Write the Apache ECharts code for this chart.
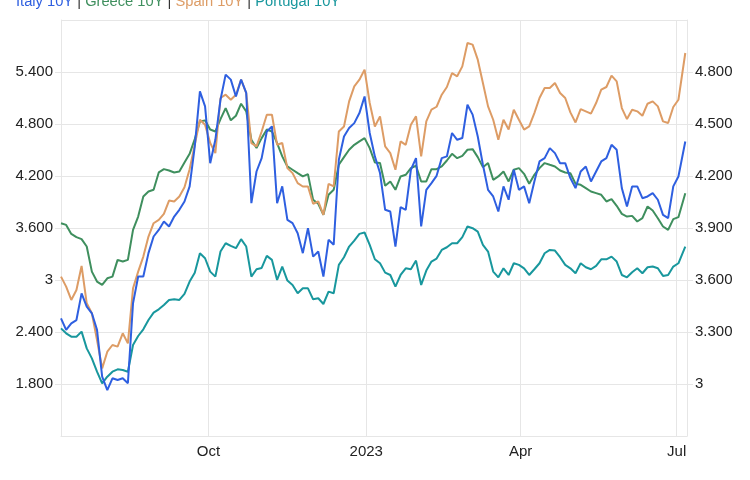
<!DOCTYPE html>
<html>
<head>
<meta charset="utf-8">
<style>
 html, body { margin: 0; padding: 0; background: #fff; }
 #main { width: 750px; height: 480px; }
</style>
<script src="https://cdn.jsdelivr.net/npm/echarts@6/dist/echarts.min.js"></script>
</head>
<body>
<div id="main"></div>
<script>
// sampled every 3 days, Jul 2022 - Jul 2023
const dates = [
 '2022-07-07','2022-07-10','2022-07-13','2022-07-16','2022-07-19','2022-07-22','2022-07-25','2022-07-28','2022-07-31',
 '2022-08-03','2022-08-06','2022-08-09','2022-08-12','2022-08-15','2022-08-18','2022-08-21','2022-08-24','2022-08-27','2022-08-30',
 '2022-09-02','2022-09-05','2022-09-08','2022-09-11','2022-09-14','2022-09-17','2022-09-20','2022-09-23','2022-09-26','2022-09-29',
 '2022-10-02','2022-10-05','2022-10-08','2022-10-11','2022-10-14','2022-10-17','2022-10-20','2022-10-23','2022-10-26','2022-10-29',
 '2022-11-01','2022-11-04','2022-11-07','2022-11-10','2022-11-13','2022-11-16','2022-11-19','2022-11-22','2022-11-25','2022-11-28',
 '2022-12-01','2022-12-04','2022-12-07','2022-12-10','2022-12-13','2022-12-16','2022-12-19','2022-12-22','2022-12-25','2022-12-28','2022-12-31',
 '2023-01-03','2023-01-06','2023-01-09','2023-01-12','2023-01-15','2023-01-18','2023-01-21','2023-01-24','2023-01-27','2023-01-30',
 '2023-02-02','2023-02-05','2023-02-08','2023-02-11','2023-02-14','2023-02-17','2023-02-20','2023-02-23','2023-02-26',
 '2023-03-01','2023-03-04','2023-03-07','2023-03-10','2023-03-13','2023-03-16','2023-03-19','2023-03-22','2023-03-25','2023-03-28','2023-03-31',
 '2023-04-03','2023-04-06','2023-04-09','2023-04-12','2023-04-15','2023-04-18','2023-04-21','2023-04-24','2023-04-27','2023-04-30',
 '2023-05-03','2023-05-06','2023-05-09','2023-05-12','2023-05-15','2023-05-18','2023-05-21','2023-05-24','2023-05-27','2023-05-30',
 '2023-06-02','2023-06-05','2023-06-08','2023-06-11','2023-06-14','2023-06-17','2023-06-20','2023-06-23','2023-06-26','2023-06-29',
 '2023-07-02','2023-07-06'
]

// right axis
const italy = [
 3.379,3.312,3.350,3.369,3.523,3.446,3.408,3.312,3.042,2.965,
 3.033,3.023,3.033,3.004,3.466,3.620,3.620,3.755,3.851,3.889,
 3.937,3.909,3.966,4.005,4.053,4.140,4.371,4.688,4.602,4.274,
 4.409,4.640,4.785,4.756,4.659,4.756,4.679,4.043,4.226,4.303,
 4.457,4.486,4.043,4.140,3.947,3.928,3.870,3.755,3.899,3.735,
 3.764,3.620,3.832,3.803,4.294,4.428,4.477,4.505,4.563,4.659,
 4.448,4.313,4.217,4.005,3.995,3.793,4.020,4.005,4.236,4.303,
 3.909,4.120,4.159,4.201,4.303,4.313,4.448,4.409,4.419,4.611,
 4.554,4.428,4.265,4.120,4.082,3.995,4.140,4.063,4.236,4.120,
 4.140,4.043,4.168,4.284,4.303,4.361,4.332,4.274,4.274,4.188,
 4.130,4.226,4.255,4.168,4.226,4.284,4.303,4.380,4.351,4.130,
 4.024,4.140,4.140,4.072,4.082,4.101,4.063,3.976,3.957,4.140,
 4.197,4.399
]

// left axis
const greece = [
 3.655,3.636,3.532,3.494,3.471,3.386,3.097,2.982,2.943,3.020,
 3.039,3.232,3.213,3.232,3.578,3.732,3.964,4.021,4.041,4.241,
 4.279,4.264,4.241,4.252,4.356,4.456,4.626,4.830,4.842,4.736,
 4.714,4.857,4.984,4.842,4.895,5.034,4.946,4.618,4.522,4.637,
 4.736,4.714,4.580,4.426,4.310,4.272,4.233,4.195,4.222,3.925,
 3.879,3.752,3.983,4.041,4.329,4.418,4.503,4.560,4.599,4.637,
 4.522,4.356,4.349,4.087,4.137,4.041,4.195,4.214,4.291,4.318,
 4.137,4.137,4.279,4.279,4.310,4.379,4.456,4.406,4.433,4.503,
 4.510,4.418,4.302,4.349,4.156,4.195,4.252,4.137,4.272,4.291,
 4.225,4.110,4.214,4.291,4.349,4.329,4.310,4.264,4.241,4.233,
 4.110,4.098,4.060,4.021,4.002,3.983,3.906,3.933,3.856,3.763,
 3.732,3.740,3.675,3.713,3.848,3.802,3.713,3.617,3.578,3.702,
 3.725,4.002
]

const spain = [
 3.039,2.924,2.770,2.885,3.162,2.731,2.616,2.307,1.980,2.173,
 2.250,2.231,2.385,2.269,2.904,3.097,3.270,3.501,3.655,3.694,
 3.763,3.917,3.906,3.964,4.071,4.279,4.560,4.849,4.791,4.580,
 4.464,5.100,5.138,5.080,5.138,5.311,5.157,4.580,4.541,4.714,
 4.907,4.907,4.560,4.580,4.291,4.233,4.118,4.079,4.079,3.879,
 3.906,3.752,4.110,4.079,4.714,4.772,5.061,5.234,5.311,5.427,
 5.042,4.772,4.888,4.541,4.464,4.272,4.599,4.560,4.791,4.888,
 4.426,4.830,4.965,4.999,5.138,5.227,5.388,5.350,5.465,5.735,
 5.716,5.542,5.273,5.003,4.849,4.618,4.849,4.736,4.965,4.849,
 4.736,4.772,4.926,5.100,5.215,5.215,5.273,5.157,5.100,4.934,
 4.818,4.972,4.946,4.919,5.042,5.196,5.227,5.358,5.292,4.984,
 4.857,4.965,4.946,4.895,5.034,5.061,5.003,4.830,4.811,4.996,
 5.080,5.619
]

const portugal = [
 2.442,2.385,2.346,2.346,2.404,2.211,2.096,1.942,1.807,1.884,
 1.942,1.969,1.961,1.942,2.250,2.354,2.431,2.539,2.623,2.662,
 2.712,2.770,2.777,2.770,2.839,2.982,3.085,3.309,3.251,3.097,
 3.039,3.328,3.424,3.393,3.367,3.471,3.386,3.039,3.124,3.139,
 3.278,3.232,3.001,3.155,2.993,2.943,2.847,2.904,2.904,2.777,
 2.789,2.723,2.866,2.847,3.174,3.263,3.386,3.455,3.532,3.548,
 3.405,3.239,3.193,3.085,3.058,2.924,3.058,3.135,3.124,3.224,
 2.943,3.109,3.213,3.247,3.347,3.378,3.424,3.424,3.494,3.617,
 3.598,3.559,3.405,3.328,3.097,3.031,3.135,3.058,3.193,3.174,
 3.135,3.058,3.124,3.193,3.309,3.347,3.340,3.263,3.174,3.135,
 3.078,3.193,3.147,3.124,3.163,3.239,3.239,3.270,3.213,3.058,
 3.031,3.089,3.135,3.078,3.147,3.155,3.135,3.047,3.058,3.155,
 3.193,3.386
]

const xTickDates = ['2022-10-01', '2023-01-01', '2023-04-01', '2023-07-01']
const xTickLabels = ['Oct', '2023', 'Apr', 'Jul']
const xStart = '2022-07-07'
const xEnd = '2023-07-07'

const FONT = 'Liberation Sans, Arial, sans-serif'
const GRID_COLOR = '#e6e6e6'
const LABEL_SIZE = 15
const TITLE_SIZE = 14.7
const colors = {
 italy: '#2e5fe0',
 greece: '#3f8f5e',
 spain: '#dd9c65',
 portugal: '#18979d'
}

const toTime = d => +new Date(d + 'T00:00:00')
const tickTimes = xTickDates.map(toTime)
const pair = vals => dates.map((d, i) => [toTime(d), vals[i]])
const fmtNum = v => Math.abs(v - Math.round(v)) < 1e-6 ? String(Math.round(v)) : v.toFixed(3)

const yAxisBase = {
 type: 'value',
 axisLine: { show: true, lineStyle: { color: GRID_COLOR } },
 axisTick: { show: true, length: 6, lineStyle: { color: GRID_COLOR } },
 axisLabel: {
  color: '#222', fontSize: LABEL_SIZE, fontFamily: FONT, margin: 8,
  showMinLabel: false, showMaxLabel: false,
  formatter: fmtNum
 }
}

const makeSeries = (name, vals, color, axis) => ({
 name: name,
 type: 'line',
 yAxisIndex: axis,
 data: pair(vals),
 showSymbol: false,
 symbol: 'none',
 lineStyle: { width: 2, color: color },
 itemStyle: { color: color }
})

const chart = echarts.init(document.getElementById('main'))
chart.setOption({
 animation: false,
 title: {
  left: 11,
  top: -11,
  text: '{a|Italy 10Y} | {b|Greece 10Y} | {c|Spain 10Y} | {d|Portugal 10Y}',
  textStyle: {
   fontSize: TITLE_SIZE, fontWeight: 'normal', color: '#333', fontFamily: FONT,
   rich: {
    a: { fontSize: TITLE_SIZE, fontFamily: FONT, color: colors.italy },
    b: { fontSize: TITLE_SIZE, fontFamily: FONT, color: colors.greece },
    c: { fontSize: TITLE_SIZE, fontFamily: FONT, color: colors.spain },
    d: { fontSize: TITLE_SIZE, fontFamily: FONT, color: colors.portugal }
   }
  }
 },
 grid: { left: 61, right: 63, top: 20, bottom: 44 },
 xAxis: {
  type: 'value',
  min: toTime(xStart),
  max: toTime(xEnd),
  axisLine: { show: true, lineStyle: { color: GRID_COLOR } },
  axisTick: { show: false, customValues: tickTimes },
  splitLine: { show: true, lineStyle: { color: GRID_COLOR } },
  axisLabel: {
   color: '#222', fontSize: LABEL_SIZE, fontFamily: FONT, margin: 8,
   customValues: tickTimes,
   formatter: function (value) {
    for (let i = 0; i < tickTimes.length; i++) {
     if (Math.abs(value - tickTimes[i]) < 43200000) return xTickLabels[i]
    }
    return ''
   }
  }
 },
 yAxis: [
  Object.assign({}, yAxisBase, {
   position: 'left', min: 1.2, max: 6.0, interval: 0.6,
   splitLine: { show: true, lineStyle: { color: GRID_COLOR } }
  }),
  Object.assign({}, yAxisBase, {
   position: 'right', min: 2.7, max: 5.1, interval: 0.3,
   splitLine: { show: false }
  })
 ],
 series: [
  makeSeries('Greece 10Y', greece, colors.greece, 0),
  makeSeries('Spain 10Y', spain, colors.spain, 0),
  makeSeries('Portugal 10Y', portugal, colors.portugal, 0),
  makeSeries('Italy 10Y', italy, colors.italy, 1)
 ]
})
</script>
</body>
</html>
